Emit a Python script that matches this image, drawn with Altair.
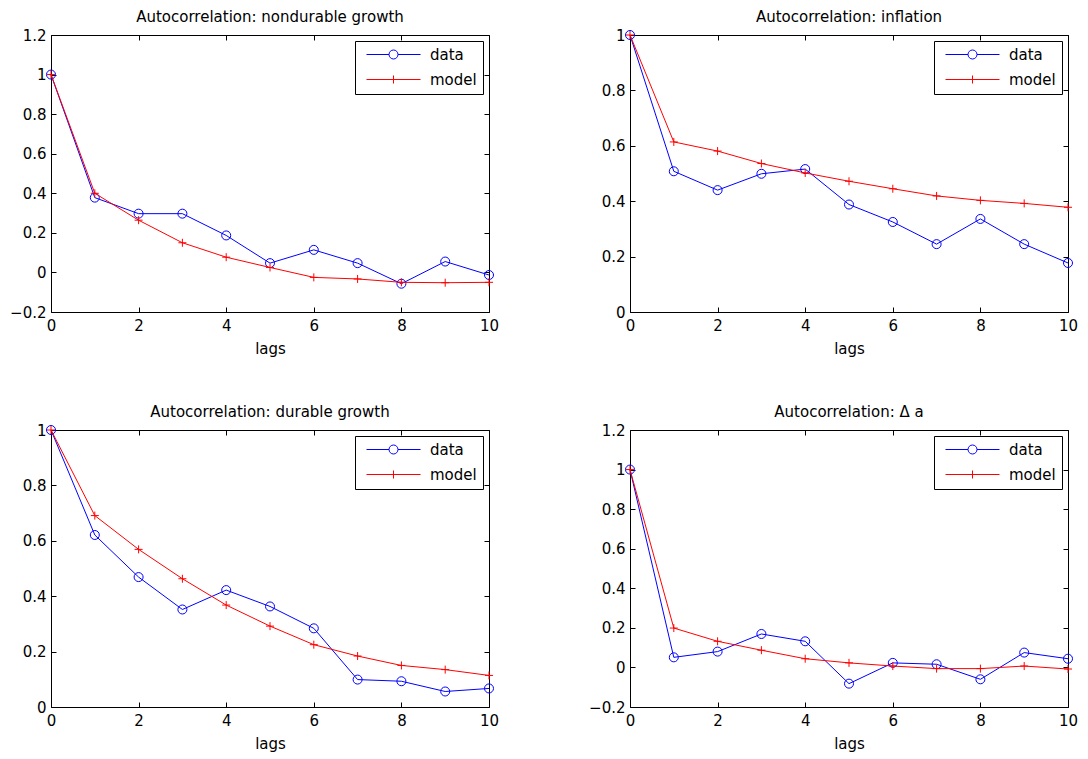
import altair as alt
import pandas as pd

# ---------------- data ----------------
lags = list(range(11))
series_names = ["data", "model"]
series_colors = ["#0000ff", "#ff0000"]

nd_data = [1.0, 0.378, 0.297, 0.297, 0.187, 0.047, 0.114, 0.047, -0.057, 0.055, -0.013]
nd_model = [1.0, 0.400, 0.264, 0.150, 0.077, 0.025, -0.025, -0.033, -0.050, -0.052, -0.050]

inf_data = [1.0, 0.508, 0.440, 0.499, 0.516, 0.388, 0.325, 0.245, 0.336, 0.245, 0.177]
inf_model = [1.0, 0.614, 0.581, 0.536, 0.502, 0.472, 0.445, 0.419, 0.403, 0.392, 0.378]

dur_data = [1.0, 0.621, 0.469, 0.352, 0.422, 0.363, 0.284, 0.099, 0.093, 0.056, 0.067]
dur_model = [1.0, 0.691, 0.569, 0.463, 0.368, 0.292, 0.225, 0.184, 0.150, 0.135, 0.114]

da_data = [1.0, 0.051, 0.080, 0.169, 0.132, -0.082, 0.023, 0.016, -0.060, 0.075, 0.044]
da_model = [1.0, 0.199, 0.132, 0.087, 0.044, 0.023, 0.007, -0.006, -0.006, 0.007, -0.008]

titles = [
    "Autocorrelation: nondurable growth",
    "Autocorrelation: inflation",
    "Autocorrelation: durable growth",
    "Autocorrelation: \u0394 a",
]
x_ticks = [0, 2, 4, 6, 8, 10]
ticks_wide = [-0.2, 0.0, 0.2, 0.4, 0.6, 0.8, 1.0, 1.2]
ticks_unit = [0.0, 0.2, 0.4, 0.6, 0.8, 1.0]
dom_wide = [-0.2, 1.2]
dom_unit = [0.0, 1.0]

# ---------------- styling ----------------
W, H = 438, 277
FONT = "DejaVu Sans"
FS = 15
TICK = 5

# legend symbols: line segment with marker (unit = 5 px at symbolSize 100)
DATA_PATH = "M-0.4,0H4.1M5.9,0H10.4M4.1,0A0.9,0.9,0,1,0,5.9,0A0.9,0.9,0,1,0,4.1,0"
MODEL_PATH = "M-0.4,0H10.4M5,-0.8V0.8"
PLUS = "M-1,0H1M0,-1V1"


def make_legend():
    return alt.Legend(
        title=None, orient="top-right", offset=6,
        fillColor="white", strokeColor="black",
        padding=6, rowPadding=9,
        labelFont=FONT, labelFontSize=FS, labelColor="black",
        labelOffset=54, symbolSize=100, symbolStrokeWidth=1,
        symbolFillColor="transparent", symbolOpacity=1,
        labelExpr="datum.label + '\u00a0\u00a0\u00a0'",
    )


def panel(title, d, m, ydom, yticks):
    df = pd.DataFrame({
        "lag": lags + lags,
        "value": d + m,
        "series": [series_names[0]] * len(lags) + [series_names[1]] * len(lags),
    })
    base = alt.Chart(df)
    x = alt.X("lag:Q",
              scale=alt.Scale(domain=[0, 10], nice=False, zero=False),
              axis=alt.Axis(values=x_ticks, title="lags", labelPadding=6,
                            labelFlush=False, titlePadding=8,
                            gridDash=[TICK, H - 2 * TICK, TICK, 2000]))
    y = alt.Y("value:Q",
              scale=alt.Scale(domain=ydom, nice=False, zero=False),
              axis=alt.Axis(values=yticks, title=None, labelPadding=5,
                            labelFlush=False,
                            labelExpr="format(datum.value, '.1~f')",
                            gridDash=[TICK, W - 2 * TICK, TICK, 2000]))
    color = alt.Color("series:N",
                      scale=alt.Scale(domain=series_names, range=series_colors),
                      legend=make_legend())
    shape = alt.Shape("series:N",
                      scale=alt.Scale(domain=series_names, range=[DATA_PATH, MODEL_PATH]),
                      legend=make_legend())
    dline = base.transform_filter("datum.series === 'data'").mark_line(
        strokeWidth=1).encode(x=x, y=y, color=color)
    dpts = base.transform_filter("datum.series === 'data'").mark_point(
        shape="circle", filled=False, size=81, strokeWidth=1, opacity=1).encode(x=x, y=y, color=color)
    mline = base.transform_filter("datum.series === 'model'").mark_line(
        strokeWidth=1).encode(x=x, y=y, color=color)
    mpts = base.transform_filter("datum.series === 'model'").mark_point(
        shape=PLUS, filled=False, size=64, strokeWidth=1, opacity=1).encode(x=x, y=y, color=color)
    # legend-only layer (no visible marks): gives the legend its line+marker keys
    legend_keys = base.transform_filter("datum.lag < 0").mark_point(
        opacity=0, filled=False).encode(x=x, y=y, color=color, shape=shape)
    return alt.layer(dline, dpts, mline, mpts, legend_keys).properties(
        width=W, height=H,
        title=alt.TitleParams(title, font=FONT, fontSize=FS, fontWeight="normal",
                              color="black", anchor="middle", baseline="middle",
                              frame="group", offset=-4),
    )


p1 = panel(titles[0], nd_data, nd_model, dom_wide, ticks_wide)
p2 = panel(titles[1], inf_data, inf_model, dom_unit, ticks_unit)
p3 = panel(titles[2], dur_data, dur_model, dom_unit, ticks_unit)
p4 = panel(titles[3], da_data, da_model, dom_wide, ticks_wide)

chart = alt.concat(p1, p2, p3, p4, columns=2,
                   spacing={"row": 118, "column": 141}, bounds="flush").resolve_scale(
    color="independent", shape="independent"
).properties(
    padding={"left": 1, "top": 1, "right": 0, "bottom": 0},
    background="white",
).configure_view(
    stroke="black", strokeWidth=1
).configure_axis(
    domain=False, ticks=False, tickSize=0,
    labelFont=FONT, labelFontSize=FS, labelColor="black",
    titleFont=FONT, titleFontSize=FS, titleFontWeight="normal", titleColor="black",
    grid=True, gridColor="black", gridOpacity=1, gridWidth=1,
)

chart.save("out.html", embed_options={"renderer": "svg", "actions": False})
